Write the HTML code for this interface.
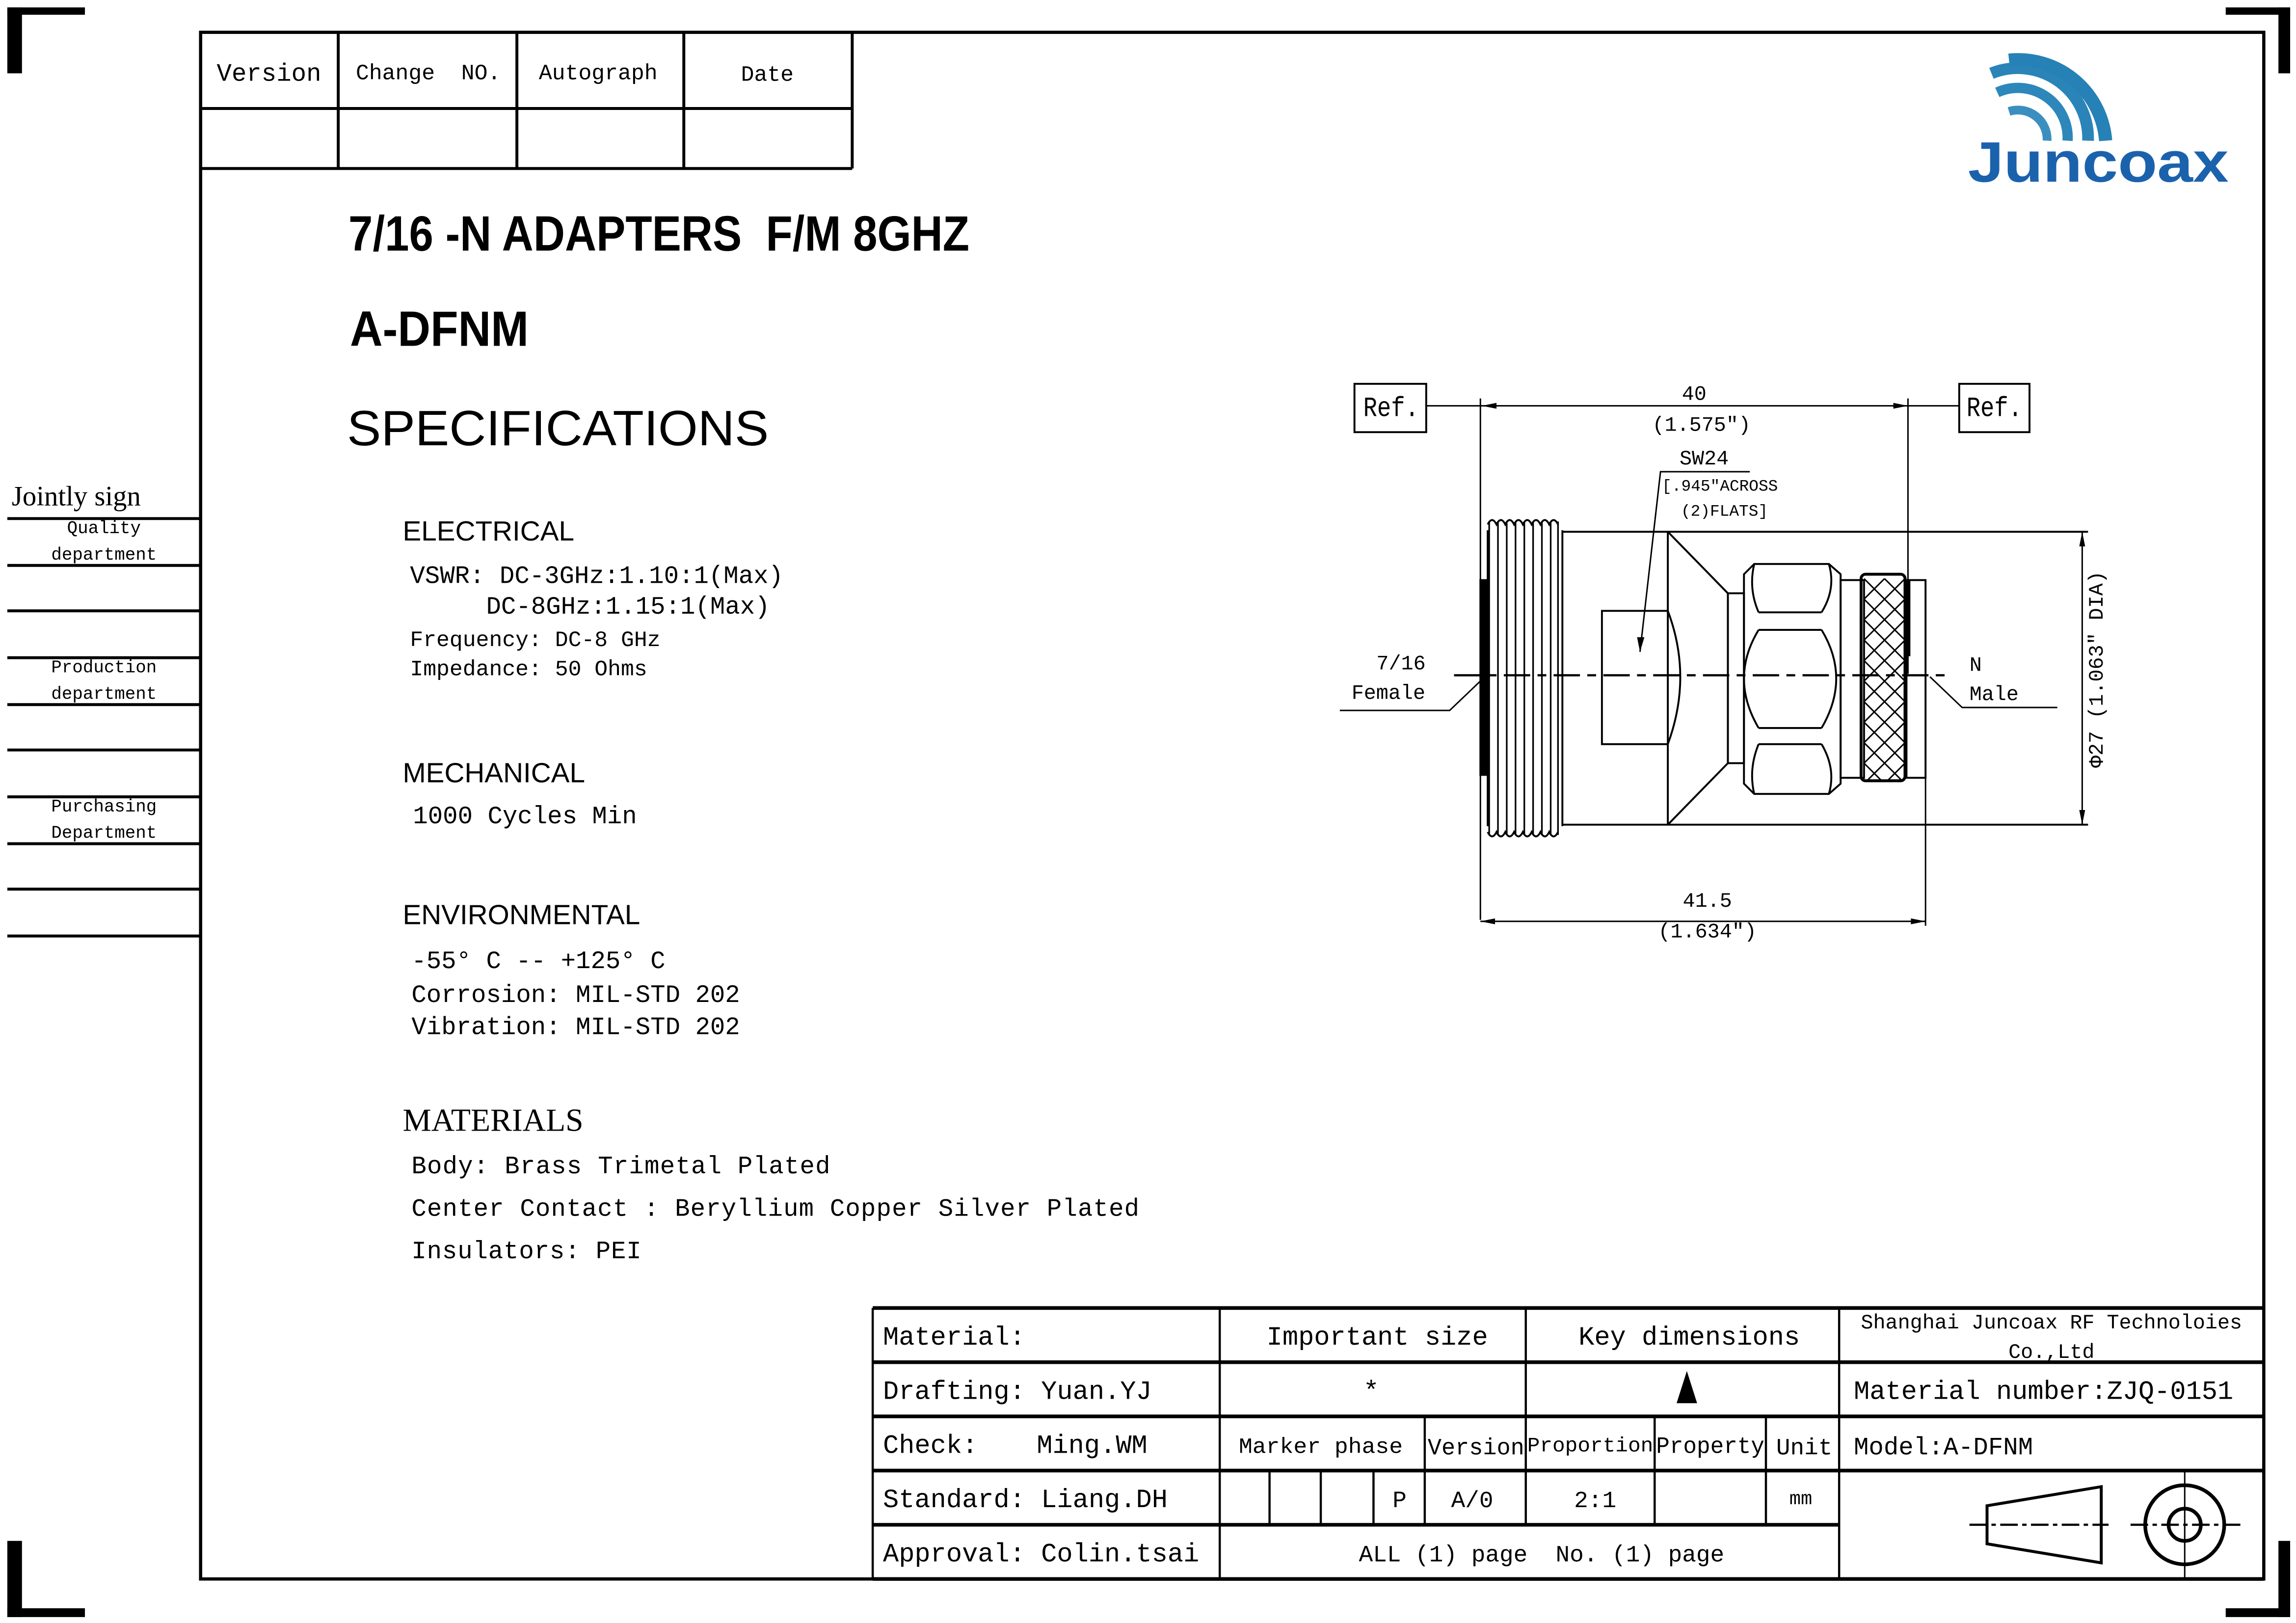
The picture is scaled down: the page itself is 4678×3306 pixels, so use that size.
<!DOCTYPE html>
<html><head><meta charset="utf-8"><style>
html,body{margin:0;padding:0;background:#fff;}
svg{display:block;}
text{font-family:"Liberation Mono","Noto Sans CJK SC",monospace;fill:#000;white-space:pre;}
.s{font-family:"Liberation Sans","Noto Sans CJK SC",sans-serif;}
</style></head><body>
<svg width="4678" height="3306" viewBox="0 0 1568 1108" xmlns="http://www.w3.org/2000/svg" xml:space="preserve">
<rect width="1568" height="1108" fill="#fff"/>
<g fill="#000">
<rect x="5" y="5" width="53" height="5"/><rect x="5" y="5" width="10" height="45"/>
<rect x="1520" y="5" width="44" height="5"/><rect x="1556" y="5" width="8" height="45"/>
<rect x="5" y="1052" width="10" height="52"/><rect x="5" y="1098" width="53" height="6"/>
<rect x="1556" y="1052" width="8" height="52"/><rect x="1520" y="1098" width="44" height="6"/>
</g>
<rect x="137" y="22" width="1409" height="1056" fill="none" stroke="#000" stroke-width="2.2"/>
<g stroke="#000" stroke-width="2" fill="none">
<path d="M137 74H582M137 115H582M582 22V115M231 22V115M353 22V115M467 22V115"/>
</g>
<g font-size="17">
<text x="148" y="55">Version</text>
<text x="243" y="54" font-size="15">Change  NO.</text>
<text x="368" y="54" font-size="15">Autograph</text>
<text x="506" y="55" font-size="15">Date</text>
</g>
<!-- logo -->
<g fill="none" stroke-linecap="butt">
<path d="M1372 76 A20 20 0 0 1 1398 96" stroke="#3b8fbf" stroke-width="6"/>
<path d="M1364 63 A34 34 0 0 1 1412 96" stroke="#2d87bb" stroke-width="7"/>
<path d="M1360 50 A48 48 0 0 1 1426 96" stroke="#2a84b8" stroke-width="8"/>
<path d="M1372 41 A60 60 0 0 1 1438 96" stroke="#2681b6" stroke-width="9"/>
</g>
<text x="1344" y="124" class="s" font-size="39" font-weight="bold" style="fill:#1b62ad" textLength="178" lengthAdjust="spacingAndGlyphs">Juncoax</text>
<!-- titles -->
<text x="238" y="171" class="s" font-size="34" font-weight="bold" textLength="424" lengthAdjust="spacingAndGlyphs">7/16 -N ADAPTERS  F/M 8GHZ</text>
<text x="239" y="236" class="s" font-size="34" font-weight="bold" textLength="122" lengthAdjust="spacingAndGlyphs">A-DFNM</text>
<text x="237" y="304" class="s" font-size="34" textLength="288" lengthAdjust="spacingAndGlyphs">SPECIFICATIONS</text>
<g class="s" font-size="19">
<text x="275" y="369" class="s">ELECTRICAL</text>
<text x="275" y="534" class="s">MECHANICAL</text>
<text x="275" y="631" class="s">ENVIRONMENTAL</text>
</g>
<text x="275" y="772" font-size="22" style="font-family:'Liberation Serif',serif">MATERIALS</text>
<g font-size="17">
<text x="280" y="398">VSWR: DC-3GHz:1.10:1(Max)</text>
<text x="332" y="419">DC-8GHz:1.15:1(Max)</text>
<text x="280" y="441" font-size="15">Frequency: DC-8 GHz</text>
<text x="280" y="461" font-size="15">Impedance: 50 Ohms</text>
<text x="282" y="562">1000 Cycles Min</text>
<text x="281" y="661">-55° C -- +125° C</text>
<text x="281" y="684">Corrosion: MIL-STD 202</text>
<text x="281" y="706">Vibration: MIL-STD 202</text>
<text x="281" y="801" textLength="286" lengthAdjust="spacing">Body: Brass Trimetal Plated</text>
<text x="281" y="830" textLength="497" lengthAdjust="spacing">Center Contact : Beryllium Copper Silver Plated</text>
<text x="281" y="859" textLength="157" lengthAdjust="spacing">Insulators: PEI</text>
</g>
<text x="8" y="345" font-size="19" style="font-family:'Liberation Serif',serif">Jointly sign</text>
<g stroke="#000" stroke-width="2"><path d="M5 354H137M5 386H137M5 417H137M5 449H137M5 481H137M5 512H137M5 544H137M5 576H137M5 607H137M5 639H137"/></g>
<g font-size="12" text-anchor="middle">
<text x="71" y="364">Quality</text><text x="71" y="382">department</text>
<text x="71" y="459">Production</text><text x="71" y="477">department</text>
<text x="71" y="554">Purchasing</text><text x="71" y="572">Department</text>
</g>
<!-- bottom table -->
<g stroke="#000" fill="none">
<path d="M596 893H1546M596 930H1546M596 967H1546M596 1004H1546M596 1041H1256" stroke-width="2.5"/>
<path d="M596 893V1078M833 893V1078M1042 893V1041M1256 893V1078M973 967V1041M1130 967V1041M1206 967V1041M867 1004V1041M902 1004V1041M938 1004V1041" stroke-width="1.5"/>
<path d="M596 1078H1546" stroke-width="2.5"/>
</g>
<g font-size="18">
<text x="603" y="918">Material:</text>
<text x="865" y="918">Important size</text>
<text x="1078" y="918">Key dimensions</text>
<text x="603" y="955">Drafting: Yuan.YJ</text>
<text x="931" y="955">*</text>
<text x="1266" y="955">Material number:ZJQ-0151</text>
<text x="603" y="992">Check:</text><text x="708" y="992">Ming.WM</text>
<text x="846" y="992" font-size="15" textLength="112" lengthAdjust="spacingAndGlyphs">Marker phase</text>
<text x="975" y="993" font-size="16" textLength="66" lengthAdjust="spacingAndGlyphs">Version</text>
<text x="1043" y="991" font-size="14" textLength="86" lengthAdjust="spacingAndGlyphs">Proportion</text>
<text x="1131" y="992" font-size="16" textLength="74" lengthAdjust="spacingAndGlyphs">Property</text>
<text x="1213" y="993" font-size="16">Unit</text>
<text x="1266" y="993" font-size="17">Model:A-DFNM</text>
<text x="603" y="1029">Standard: Liang.DH</text>
<text x="951" y="1029" font-size="16">P</text>
<text x="991" y="1029" font-size="16">A/0</text>
<text x="1075" y="1029" font-size="16">2:1</text>
<text x="1222" y="1027" font-size="13">mm</text>
<text x="603" y="1066">Approval: Colin.tsai</text>
<text x="928" y="1066" font-size="16">ALL (1) page  No. (1) page</text>
<text x="1401" y="907" font-size="14" text-anchor="middle">Shanghai Juncoax RF Technoloies</text>
<text x="1401" y="927" font-size="14" text-anchor="middle">Co.,Ltd</text>
</g>
<polygon points="1152,936 1145,958 1159,958" fill="#000"/>
<g stroke="#000" fill="none">
<path d="M1357 1028 L1435 1015 V1067 L1357 1054 Z" stroke-width="2"/>
<path d="M1345 1041H1440M1455 1041H1530" stroke-width="1.5" stroke-dasharray="12 3 3 3"/>
<circle cx="1492" cy="1041" r="27" stroke-width="2.5"/>
<circle cx="1492" cy="1041" r="11" stroke-width="2.5"/>
<path d="M1492 1004V1078" stroke-width="1"/>
</g>
<!-- drawing -->
<g stroke="#000" fill="none" stroke-width="1.3">
<rect x="925" y="262" width="49" height="33"/>
<rect x="1338" y="262" width="48" height="33"/>
<path d="M974 277H1338" stroke-width="1"/>
<path d="M1011 272V628M1303 272V460M1315 455V632M1011 629H1315" stroke-width="1"/>
<rect x="1011" y="396" width="4" height="133" fill="#000"/>
<path d="M1016 362 V564 M1067 362 V564"/>
<path d="M1017 356 L1017 570 M1023 356 V570 M1029 356 V570 M1035 356 V570 M1041 356 V570 M1047 356 V570 M1053 356 V570 M1059 356 V570 M1064 356 V570" stroke-width="1.1"/>
<path d="M1016 358 Q1019 352 1022 358 Q1025 352 1028 358 Q1031 352 1034 358 Q1037 352 1040 358 Q1043 352 1046 358 Q1049 352 1052 358 Q1055 352 1058 358 Q1061 352 1064 358"/>
<path d="M1016 568 Q1019 574 1022 568 Q1025 574 1028 568 Q1031 574 1034 568 Q1037 574 1040 568 Q1043 574 1046 568 Q1049 574 1052 568 Q1055 574 1058 568 Q1061 574 1064 568"/>
<path d="M1067 363 H1426 M1067 563 H1426"/>
<path d="M1139 363 V563 M1139 363 L1180 405 V521 L1139 563"/>
<path d="M1094 417 H1139 Q1156 462 1139 508 H1094 Z"/>
<rect x="1180" y="405" width="11" height="116"/>
<path d="M1191 392 L1198 385 H1249 L1257 392 V535 L1249 542 H1198 L1191 535 Z"/>
<path d="M1201 418 H1244 M1201 430 H1244 M1201 497 H1244 M1201 508 H1244"/>
<path d="M1198 385 Q1194 402 1201 418 M1249 385 Q1254 402 1244 418 M1198 542 Q1194 525 1201 508 M1249 542 Q1254 525 1244 508"/>
<path d="M1201 430 Q1181 463 1201 497 M1244 430 Q1264 463 1244 497"/>
<rect x="1257" y="396" width="16" height="135"/>
<rect x="1271" y="392" width="30" height="141" rx="3" stroke-width="2"/>
<rect x="1302" y="396" width="13" height="135"/>
<path d="M1304 396 V448" />
</g>
<g stroke="#000" stroke-width="1" fill="none">
<path d="M1273 395 L1301 423 M1273 409 L1301 437 M1273 423 L1301 451 M1273 437 L1301 465 M1273 451 L1301 479 M1273 465 L1301 493 M1273 479 L1301 507 M1273 493 L1301 521 M1273 507 L1299 533 M1273 521 L1285 533 M1287 395 L1301 409"/>
<path d="M1301 395 L1273 423 M1301 409 L1273 437 M1301 423 L1273 451 M1301 437 L1273 465 M1301 451 L1273 479 M1301 465 L1273 493 M1301 479 L1273 507 M1301 493 L1273 521 M1301 507 L1275 533 M1301 521 L1289 533 M1287 395 L1273 409"/>
<path d="M993 461 H1332" stroke-dasharray="18 5 6 5" stroke-width="1.5"/>
<path d="M915 485 H990 L1012 464"/>
<path d="M1318 462 L1340 483 H1405"/>
<path d="M1120 445 L1134 322 H1195"/>
<path d="M1422 363 V563"/>
</g>
<g fill="#000">
<polygon points="1012,277 1022,275 1022,279"/><polygon points="1303,277 1293,275 1293,279"/>
<polygon points="1011,629 1021,627 1021,631"/><polygon points="1315,629 1305,627 1305,631"/>
<polygon points="1422,363 1420,373 1424,373"/><polygon points="1422,563 1420,553 1424,553"/>
<polygon points="1120,445 1118,435 1123,435"/>
</g>
<g font-size="14">
<text x="931" y="284" font-size="19" textLength="38" lengthAdjust="spacingAndGlyphs">Ref.</text>
<text x="1343" y="284" font-size="19" textLength="38" lengthAdjust="spacingAndGlyphs">Ref.</text>
<text x="1157" y="273" text-anchor="middle">40</text>
<text x="1162" y="294" text-anchor="middle">(1.575")</text>
<text x="1147" y="317">SW24</text>
<text x="1135" y="335" font-size="11">[.945"ACROSS</text>
<text x="1148" y="352" font-size="11">(2)FLATS]</text>
<text x="940" y="457">7/16</text>
<text x="923" y="477">Female</text>
<text x="1345" y="458">N</text>
<text x="1345" y="478">Male</text>
<text x="1166" y="619" text-anchor="middle">41.5</text>
<text x="1166" y="640" text-anchor="middle">(1.634")</text>
<text transform="translate(1436,457) rotate(-90)" text-anchor="middle" font-size="14">Φ27 (1.063" DIA)</text>
</g>
</svg>
</body></html>
